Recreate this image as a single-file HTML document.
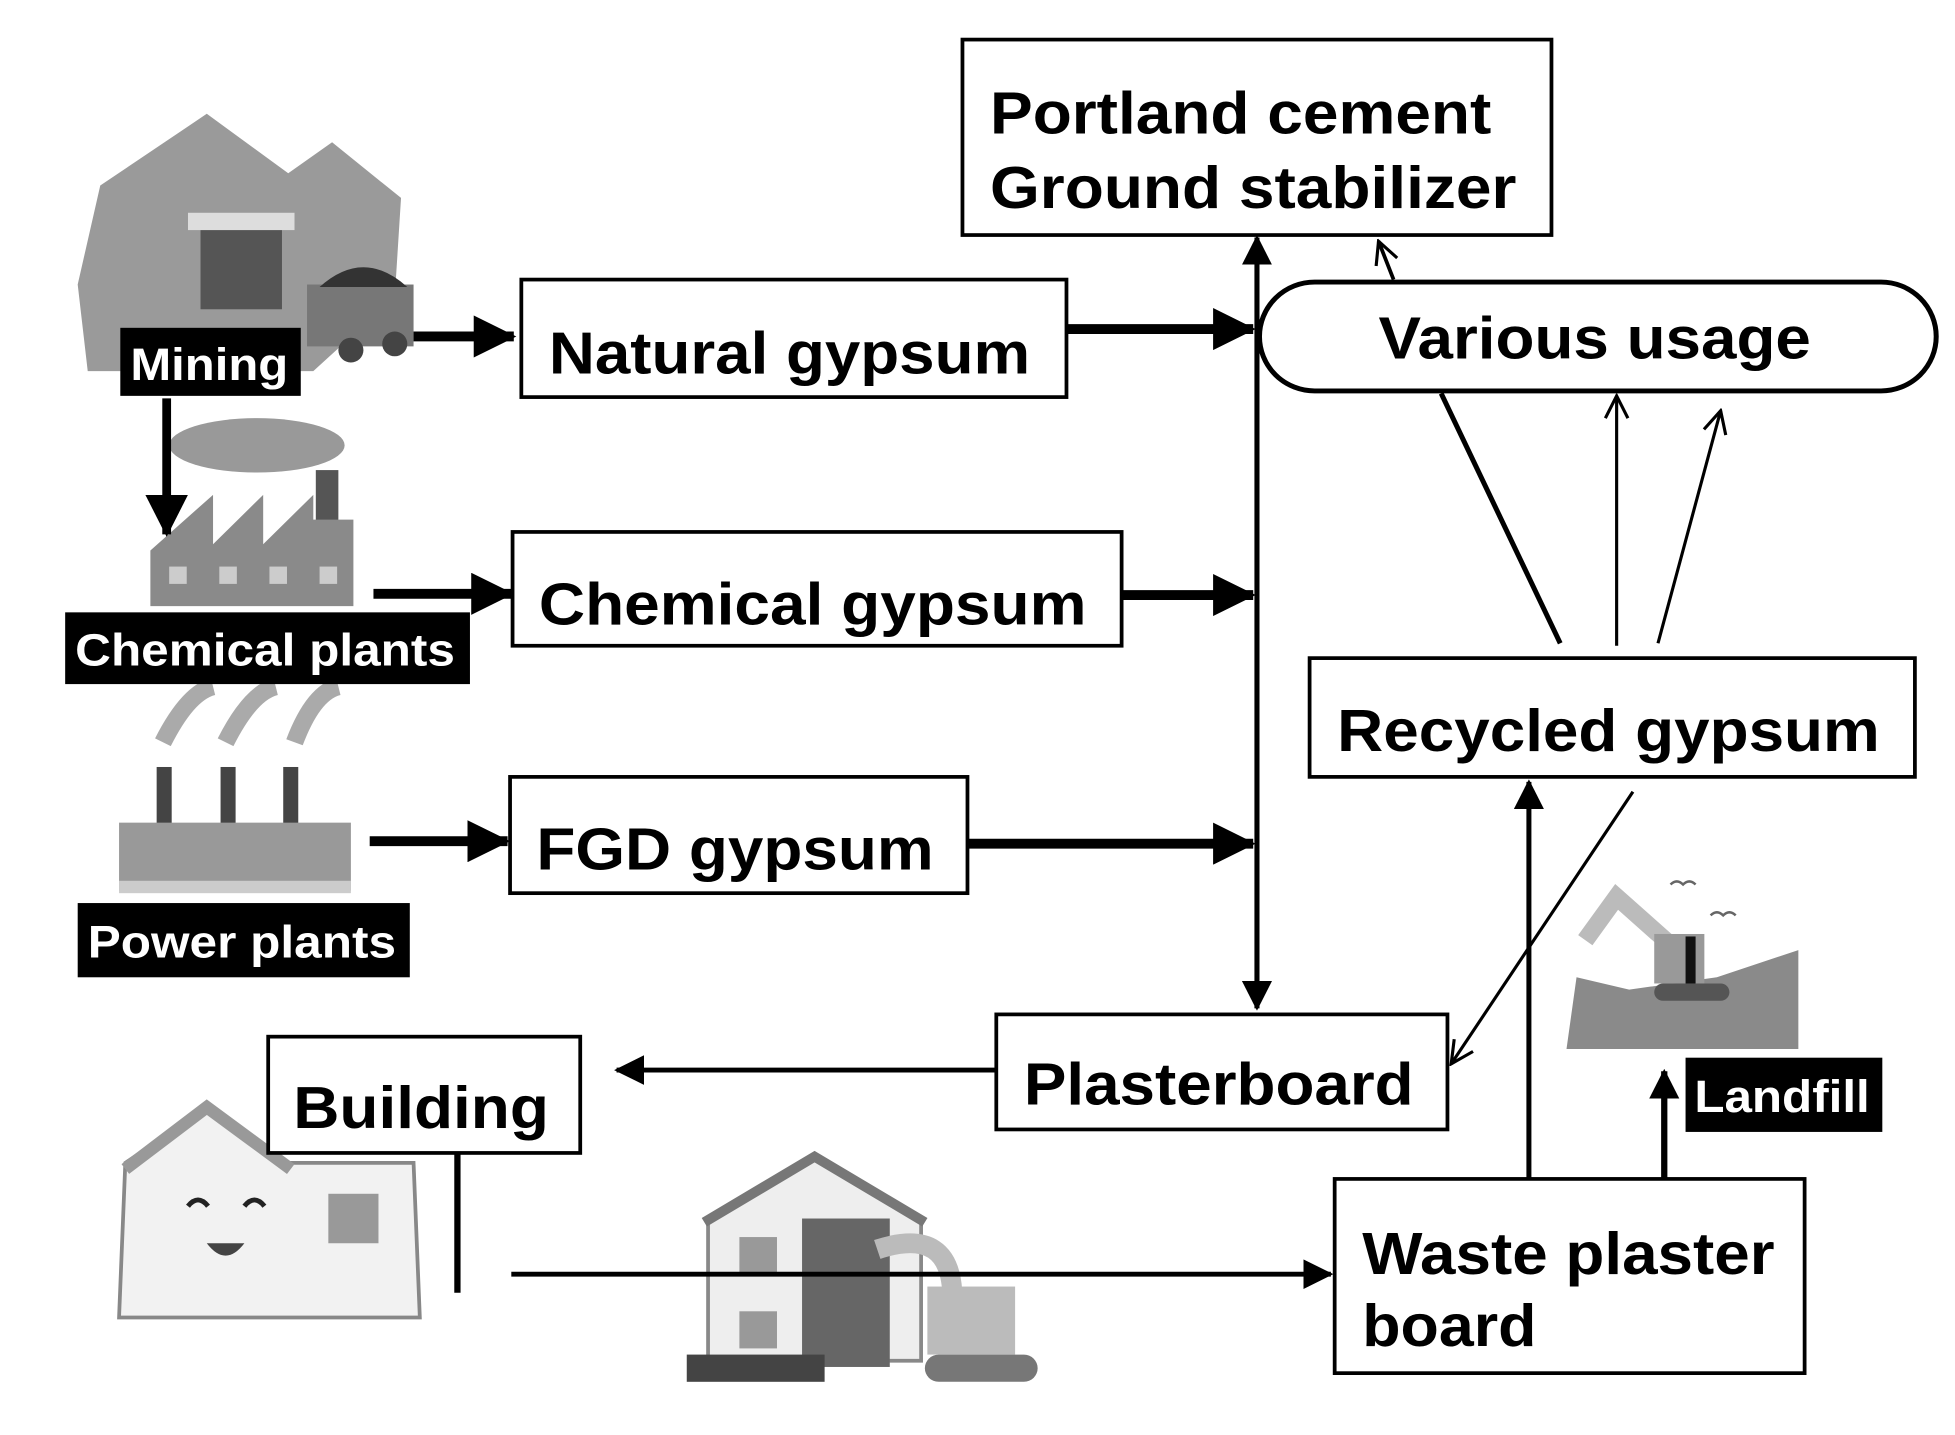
<!DOCTYPE html>
<html><head><meta charset="utf-8"><style>
html,body{margin:0;padding:0;background:#fff;}
svg{display:block;}
text{font-family:"Liberation Sans",Arial,sans-serif;font-weight:bold;}
</style></head><body>
<svg width="1955" height="1435" viewBox="0 0 1560 1160" preserveAspectRatio="none" xmlns="http://www.w3.org/2000/svg">
<defs>
<marker id="big" markerWidth="34" markerHeight="34" refX="32" refY="17" orient="auto" markerUnits="userSpaceOnUse" viewBox="0 0 34 34"><path d="M0,0 L34,17 L0,34 z" fill="#000"/></marker>
<marker id="mid" markerWidth="24" markerHeight="24" refX="22" refY="12" orient="auto" markerUnits="userSpaceOnUse" viewBox="0 0 24 24"><path d="M0,0 L24,12 L0,24 z" fill="#000"/></marker>
<marker id="open" markerWidth="22" markerHeight="22" refX="20" refY="11" orient="auto" markerUnits="userSpaceOnUse" viewBox="0 0 22 22"><path d="M2,2 L20,11 L2,20" fill="none" stroke="#000" stroke-width="2.5"/></marker>
</defs>

<g>
<path d="M62,230 L80,150 L165,92 L230,140 L265,115 L320,160 L315,240 L250,300 L70,300 z" fill="#9a9a9a"/>
<rect x="160" y="180" width="65" height="70" fill="#555"/>
<rect x="150" y="172" width="85" height="14" fill="#ddd"/>
<rect x="245" y="230" width="85" height="50" fill="#777"/>
<path d="M255,232 Q290,200 325,232 z" fill="#333"/>
<circle cx="280" cy="283" r="10" fill="#444"/><circle cx="315" cy="278" r="10" fill="#444"/>
</g>
<g>
<ellipse cx="205" cy="360" rx="70" ry="22" fill="#999"/>
<rect x="252" y="380" width="18" height="50" fill="#555"/>
<path d="M120,490 L120,445 L170,400 L170,440 L210,400 L210,440 L250,400 L250,420 L282,420 L282,490 z" fill="#8a8a8a"/>
<g fill="#ccc"><rect x="135" y="458" width="14" height="14"/><rect x="175" y="458" width="14" height="14"/><rect x="215" y="458" width="14" height="14"/><rect x="255" y="458" width="14" height="14"/></g>
</g>
<g>
<path d="M130,600 Q150,560 170,555 M180,600 Q200,560 220,555 M235,600 Q250,560 270,555" stroke="#aaa" stroke-width="14" fill="none"/>
<g fill="#444"><rect x="125" y="620" width="12" height="85"/><rect x="176" y="620" width="12" height="85"/><rect x="226" y="620" width="12" height="85"/></g>
<rect x="95" y="665" width="185" height="55" fill="#999"/>
<rect x="95" y="712" width="185" height="10" fill="#ccc"/>
</g>
<g>
<path d="M100,940 L165,895 L230,940 L330,940 L335,1065 L95,1065 z" fill="#f2f2f2" stroke="#888" stroke-width="3"/>
<path d="M100,945 L165,895 L232,945" fill="none" stroke="#999" stroke-width="10"/>
<rect x="262" y="965" width="40" height="40" fill="#999"/>
<path d="M150,975 q8,-10 16,0 M195,975 q8,-10 16,0" stroke="#222" stroke-width="4" fill="none"/>
<path d="M165,1005 q15,20 30,0 z" fill="#444"/>
</g>
<g>
<path d="M565,985 L650,935 L735,985 L735,1100 L565,1100 z" fill="#eee" stroke="#888" stroke-width="3"/>
<path d="M562,988 L650,935 L738,988" fill="none" stroke="#777" stroke-width="8"/>
<rect x="640" y="985" width="70" height="120" fill="#666"/>
<rect x="590" y="1000" width="30" height="30" fill="#999"/><rect x="590" y="1060" width="30" height="30" fill="#999"/>
<path d="M700,1010 Q760,990 760,1050" stroke="#bbb" stroke-width="16" fill="none"/>
<rect x="740" y="1040" width="70" height="55" fill="#bbb"/>
<rect x="738" y="1095" width="90" height="22" rx="11" fill="#777"/>
<rect x="548" y="1095" width="110" height="22" fill="#444"/>
</g>
<g>
<path d="M1258,790 L1300,800 L1370,790 L1435,768 L1435,848 L1250,848 z" fill="#8a8a8a"/>
<path d="M1265,760 L1290,725 L1340,770" stroke="#bbb" stroke-width="14" fill="none"/>
<rect x="1320" y="755" width="40" height="40" fill="#999"/>
<rect x="1345" y="757" width="8" height="38" fill="#111"/>
<rect x="1320" y="795" width="60" height="14" rx="7" fill="#555"/>
<path d="M1333,715 q5,-5 10,0 q5,-5 10,0 M1365,740 q5,-5 10,0 q5,-5 10,0" stroke="#666" stroke-width="2" fill="none"/>
</g>

<rect x="96" y="265" width="144" height="55" fill="#000"/>
<text x="104" y="307" font-size="37" fill="#fff" textLength="126" lengthAdjust="spacingAndGlyphs">Mining</text>
<rect x="52" y="495" width="323" height="58" fill="#000"/>
<text x="60" y="538" font-size="37" fill="#fff" textLength="303" lengthAdjust="spacingAndGlyphs">Chemical plants</text>
<rect x="62" y="730" width="265" height="60" fill="#000"/>
<text x="70" y="774" font-size="37" fill="#fff" textLength="246" lengthAdjust="spacingAndGlyphs">Power plants</text>
<rect x="1345" y="855" width="157" height="60" fill="#000"/>
<text x="1352" y="899" font-size="37" fill="#fff" textLength="140" lengthAdjust="spacingAndGlyphs">Landfill</text>

<g fill="#fff" stroke="#000" stroke-width="3">
<rect x="768" y="32" width="470" height="158"/>
<rect x="416" y="226" width="435" height="95"/>
<rect x="409" y="430" width="486" height="92"/>
<rect x="407" y="628" width="365" height="94"/>
<rect x="1045" y="532" width="483" height="96"/>
<rect x="795" y="820" width="360" height="93"/>
<rect x="214" y="838" width="249" height="94"/>
<rect x="1065" y="953" width="375" height="157"/>
</g>
<rect x="1005" y="228" width="540" height="88" rx="44" fill="#fff" stroke="#000" stroke-width="4"/>

<g font-size="48" fill="#000">
<text x="790" y="108" textLength="400" lengthAdjust="spacingAndGlyphs">Portland cement</text>
<text x="790" y="168" textLength="420" lengthAdjust="spacingAndGlyphs">Ground stabilizer</text>
<text x="438" y="302" textLength="384" lengthAdjust="spacingAndGlyphs">Natural gypsum</text>
<text x="430" y="505" textLength="437" lengthAdjust="spacingAndGlyphs">Chemical gypsum</text>
<text x="428" y="703" textLength="317" lengthAdjust="spacingAndGlyphs">FGD gypsum</text>
<text x="1100" y="290" textLength="345" lengthAdjust="spacingAndGlyphs">Various usage</text>
<text x="1067" y="607" textLength="433" lengthAdjust="spacingAndGlyphs">Recycled gypsum</text>
<text x="817" y="893" textLength="311" lengthAdjust="spacingAndGlyphs">Plasterboard</text>
<text x="234" y="912" textLength="204" lengthAdjust="spacingAndGlyphs">Building</text>
<text x="1087" y="1030" textLength="329" lengthAdjust="spacingAndGlyphs">Waste plaster</text>
<text x="1087" y="1088" textLength="139" lengthAdjust="spacingAndGlyphs">board</text>
</g>

<g stroke="#000" fill="none">
<line x1="1003" y1="815" x2="1003" y2="192" stroke-width="4" marker-end="url(#mid)"/>
<line x1="1003" y1="200" x2="1003" y2="815" stroke-width="4" marker-end="url(#mid)"/>
<line x1="330" y1="272" x2="410" y2="272" stroke-width="8" marker-end="url(#big)"/>
<line x1="851" y1="266" x2="1000" y2="266" stroke-width="8" marker-end="url(#big)"/>
<line x1="298" y1="480" x2="408" y2="480" stroke-width="8" marker-end="url(#big)"/>
<line x1="895" y1="481" x2="1000" y2="481" stroke-width="8" marker-end="url(#big)"/>
<line x1="295" y1="680" x2="405" y2="680" stroke-width="8" marker-end="url(#big)"/>
<line x1="772" y1="682" x2="1000" y2="682" stroke-width="8" marker-end="url(#big)"/>
<line x1="133" y1="322" x2="133" y2="432" stroke-width="7" marker-end="url(#big)"/>
<line x1="1112" y1="226" x2="1100" y2="195" stroke-width="3" marker-end="url(#open)"/>
<line x1="1245" y1="520" x2="1150" y2="318" stroke-width="4"/>
<line x1="1290" y1="522" x2="1290" y2="320" stroke-width="2.5" marker-end="url(#open)"/>
<line x1="1323" y1="520" x2="1373" y2="332" stroke-width="2.5" marker-end="url(#open)"/>
<line x1="1303" y1="640" x2="1158" y2="860" stroke-width="2.5" marker-end="url(#open)"/>
<line x1="1220" y1="952" x2="1220" y2="632" stroke-width="4" marker-end="url(#mid)"/>
<line x1="1328" y1="952" x2="1328" y2="866" stroke-width="5" marker-end="url(#mid)"/>
<line x1="795" y1="865" x2="492" y2="865" stroke-width="4" marker-end="url(#mid)"/>
<line x1="365" y1="932" x2="365" y2="1045" stroke-width="5"/>
<line x1="408" y1="1030" x2="1062" y2="1030" stroke-width="4" marker-end="url(#mid)"/>
</g>
</svg>
</body></html>
